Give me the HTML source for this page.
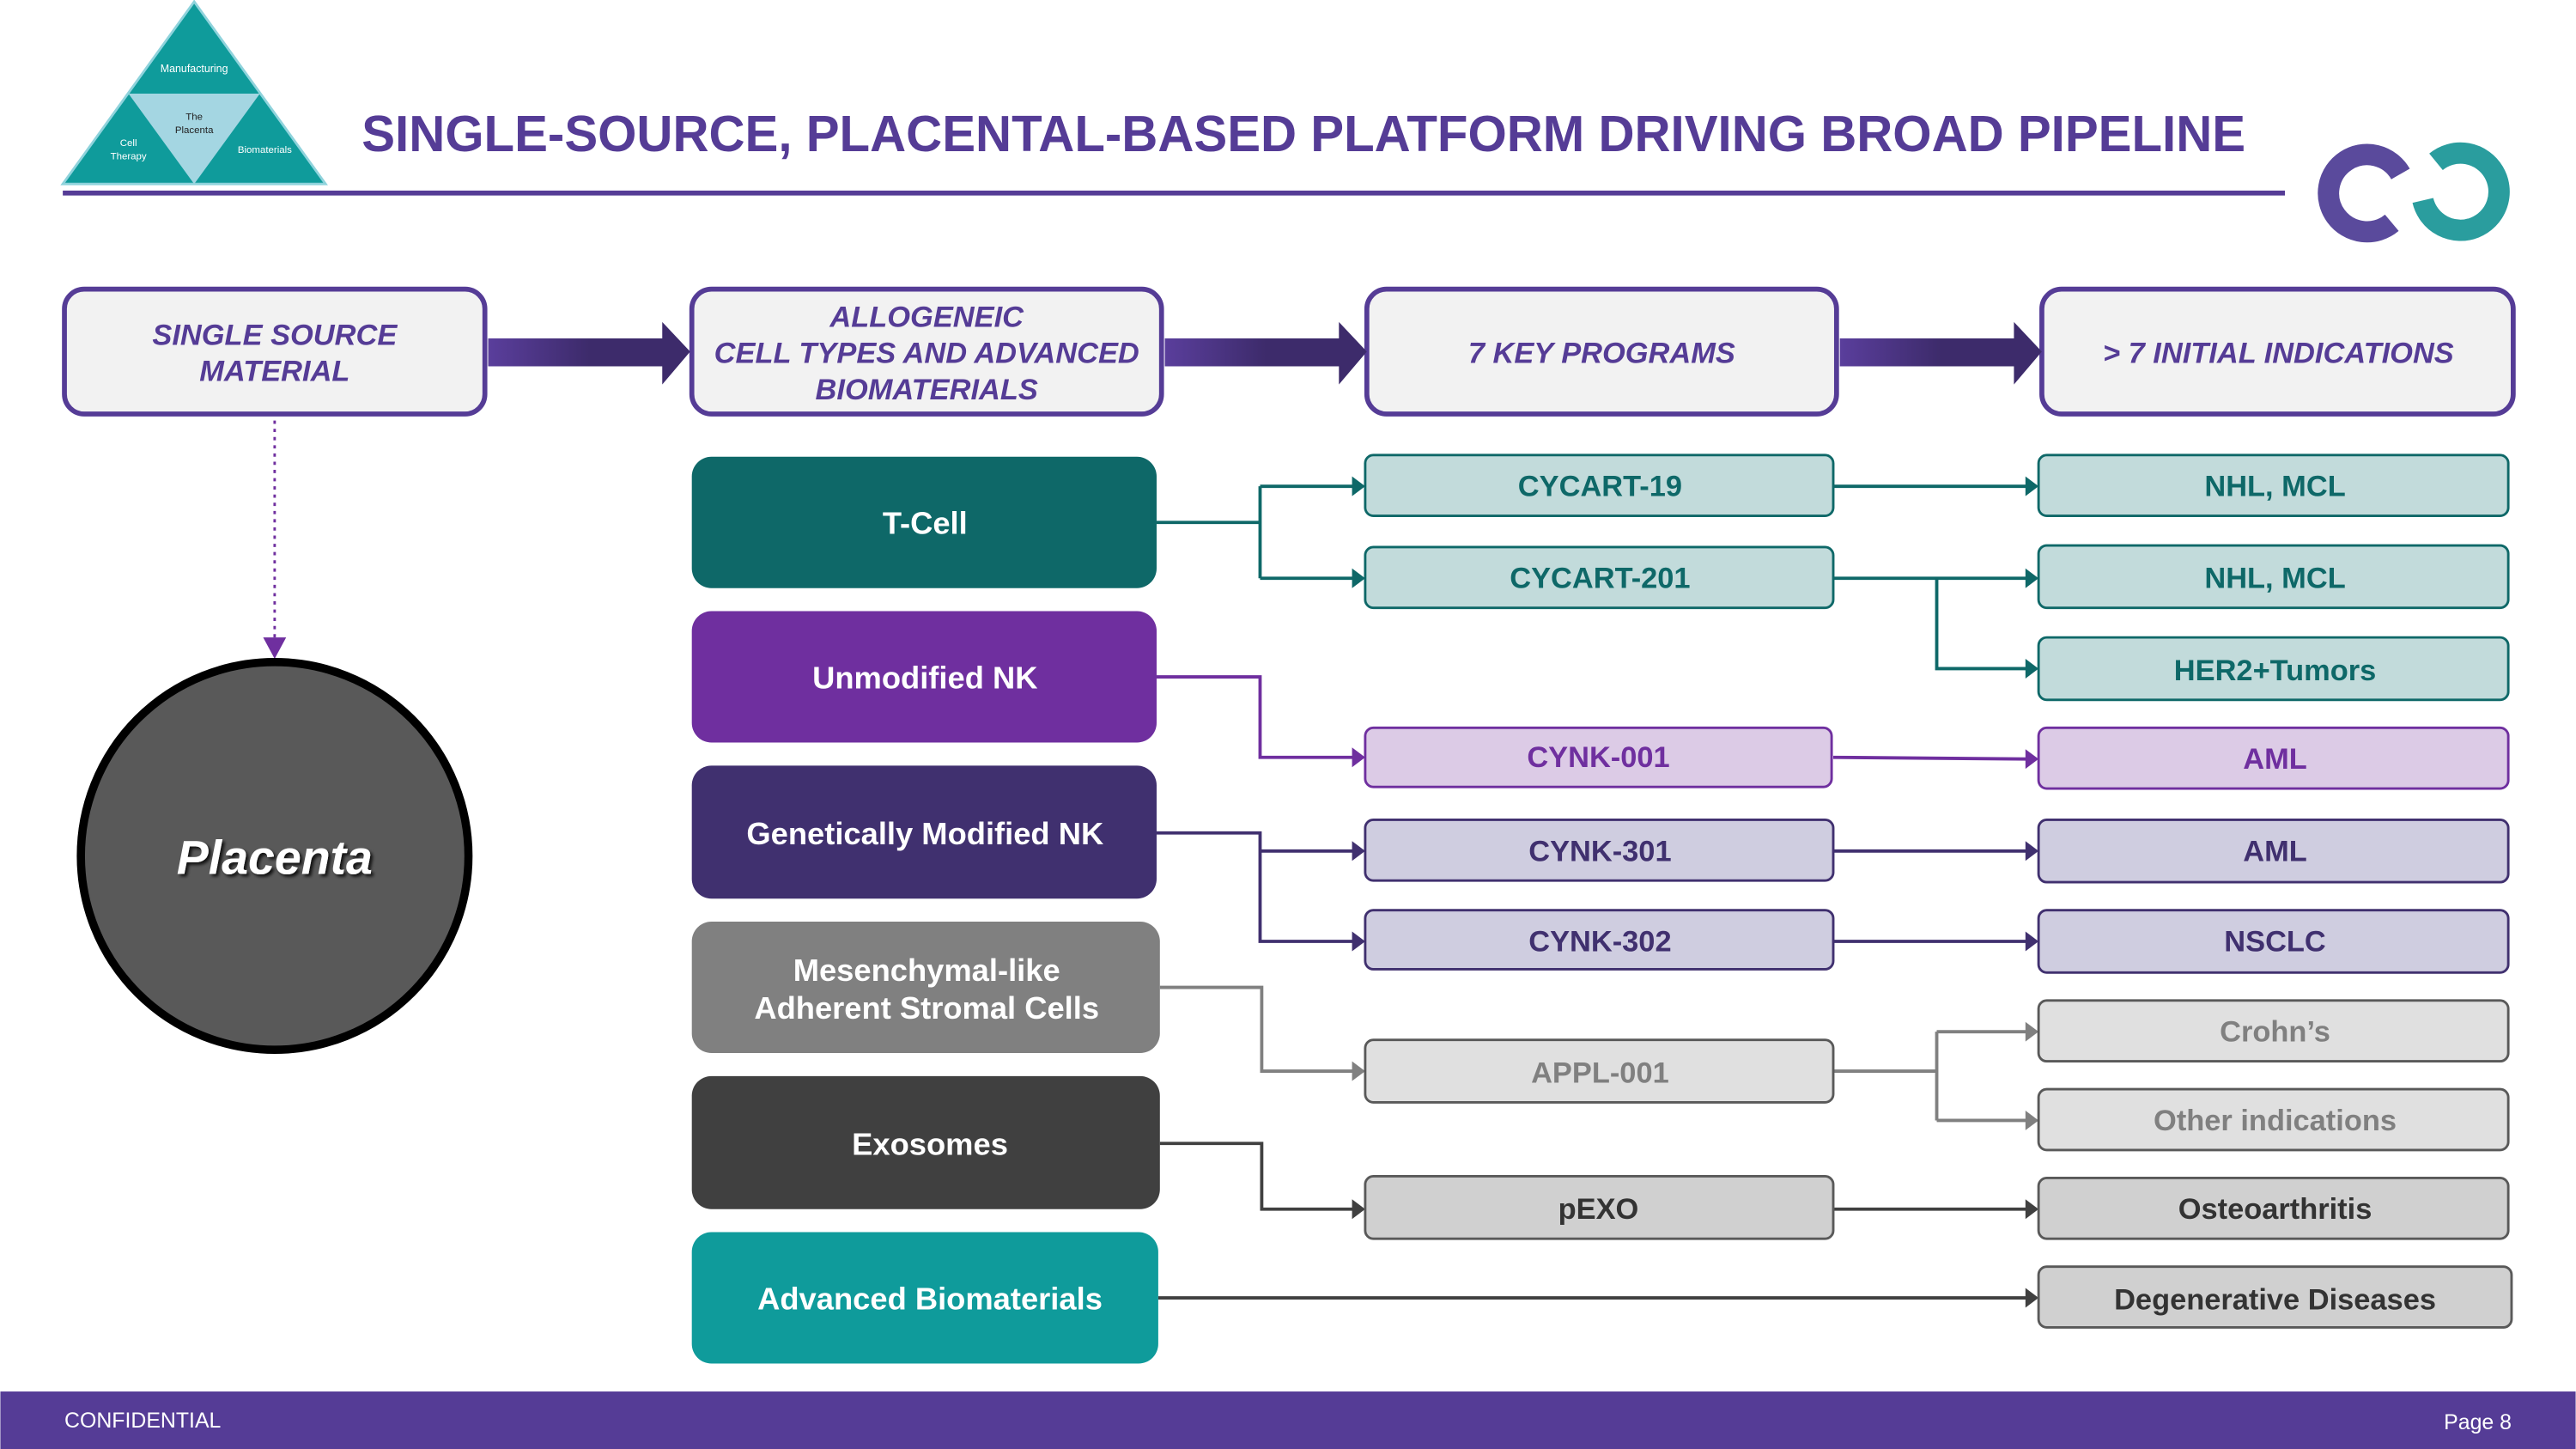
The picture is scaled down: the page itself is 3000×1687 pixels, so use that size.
<!DOCTYPE html>
<html><head><meta charset="utf-8"><style>
html,body{margin:0;padding:0;background:#fff;}
svg{display:block;}
text{font-family:"Liberation Sans",Arial,sans-serif;}
</style></head><body>
<svg width="3000" height="1687" viewBox="0 0 1568 882" xmlns="http://www.w3.org/2000/svg">
<defs>
<linearGradient id="ag" x1="0" x2="1"><stop offset="0" stop-color="#5a3e9c"/><stop offset="0.5" stop-color="#3d2b6b"/><stop offset="1" stop-color="#3d2b6b"/></linearGradient>
<filter id="sh"><feDropShadow dx="1.5" dy="1.5" stdDeviation="1" flood-color="#000" flood-opacity="0.8"/></filter>
</defs>
<!-- logo triangle -->
<polygon points="118,1 38,112 198,112" fill="#0f9b9b" stroke="#8fd3dc" stroke-width="1.5"/>
<polygon points="78,57 158,57 118,112" fill="#a4d6e2"/>
<text x="118" y="44" font-size="6.5" fill="#fff" text-anchor="middle">Manufacturing</text>
<text x="118" y="73" font-size="6" fill="#222" text-anchor="middle">The</text>
<text x="118" y="81" font-size="6" fill="#222" text-anchor="middle">Placenta</text>
<text x="78" y="89" font-size="6" fill="#fff" text-anchor="middle">Cell</text>
<text x="78" y="97" font-size="6" fill="#fff" text-anchor="middle">Therapy</text>
<text x="161" y="93" font-size="6" fill="#fff" text-anchor="middle">Biomaterials</text>
<!-- title -->
<text x="220" y="92" font-size="31" font-weight="bold" fill="#553c96" textLength="1147" lengthAdjust="spacingAndGlyphs">SINGLE-SOURCE, PLACENTAL-BASED PLATFORM DRIVING BROAD PIPELINE</text>
<rect x="38" y="116" width="1353" height="3" fill="#553c96"/>
<!-- top right logo -->
<path d="M1461.4,105.9 A23.5,23.5 0 1 0 1456.1,135.6" fill="none" stroke="#5a4a9c" stroke-width="13"/>
<path d="M1483,98.5 A23.5,23.5 0 1 1 1475,122" fill="none" stroke="#2a9d9e" stroke-width="13"/>
<!-- header boxes -->
<g fill="#f2f2f2" stroke="#553c96" stroke-width="3">
<rect x="39" y="176" width="256" height="76" rx="12"/>
<rect x="421" y="176" width="286" height="76" rx="12"/>
<rect x="832" y="176" width="286" height="76" rx="12"/>
<rect x="1243" y="176" width="287" height="76" rx="12"/>
</g>
<g fill="url(#ag)">
<polygon points="297,206 403,206 403,196 420,214 403,234 403,223 297,223"/>
<polygon points="709,206 815,206 815,196 832,214 815,234 815,223 709,223"/>
<polygon points="1120,206 1226,206 1226,196 1243,214 1226,234 1226,223 1120,223"/>
</g>
<g font-size="18" font-weight="bold" font-style="italic" fill="#553c96" text-anchor="middle">
<text x="167" y="210">SINGLE SOURCE</text><text x="167" y="232">MATERIAL</text>
<text x="564" y="199">ALLOGENEIC</text><text x="564" y="221">CELL TYPES AND ADVANCED</text><text x="564" y="243">BIOMATERIALS</text>
<text x="975" y="221">7 KEY PROGRAMS</text>
<text x="1387" y="221">&gt; 7 INITIAL INDICATIONS</text>
</g>
<!-- dotted + circle -->
<line x1="167" y1="256" x2="167" y2="388" stroke="#6f2f9f" stroke-width="1.5" stroke-dasharray="2,3"/>
<polygon points="160,388 174,388 167,401" fill="#6f2f9f"/>
<circle cx="167" cy="521" r="118" fill="#595959" stroke="#000" stroke-width="5"/>
<text x="167" y="532" font-size="29" font-weight="bold" font-style="italic" fill="#fff" text-anchor="middle" filter="url(#sh)">Placenta</text>
<!-- left boxes -->
<rect x="421" y="278" width="283" height="80" rx="12" fill="#0e6868"/>
<rect x="421" y="372" width="283" height="80" rx="12" fill="#6f2f9f"/>
<rect x="421" y="466" width="283" height="81" rx="12" fill="#40306f"/>
<rect x="421" y="561" width="285" height="80" rx="12" fill="#808080"/>
<rect x="421" y="655" width="285" height="81" rx="12" fill="#404040"/>
<rect x="421" y="750" width="284" height="80" rx="12" fill="#0f9b9b"/>
<g font-size="19" font-weight="bold" fill="#fff" text-anchor="middle">
<text x="563" y="325">T-Cell</text>
<text x="563" y="419">Unmodified NK</text>
<text x="563" y="514">Genetically Modified NK</text>
<text x="564" y="597">Mesenchymal-like</text><text x="564" y="620">Adherent Stromal Cells</text>
<text x="566" y="703">Exosomes</text>
<text x="566" y="797">Advanced Biomaterials</text>
</g>
<!-- connectors -->
<g fill="none" stroke-width="2">
<path d="M704,318 H767 M767,296 V352 M767,296 H824 M767,352 H824" stroke="#0e6868"/>
<path d="M1116,296 H1234 M1116,352 H1234 M1179,352 V407 H1234" stroke="#0e6868"/>
<path d="M704,412 H767 V461 H824 M1116,461 L1234,462" stroke="#6f2f9f"/>
<path d="M704,507 H767 V573 H824 M767,518 H824 M1116,518 H1234 M1116,573 H1234" stroke="#40306f"/>
<path d="M706,601 H768 V652 H824 M1116,652 H1179 M1179,628 V682 M1179,628 H1234 M1179,682 H1234" stroke="#808080"/>
<path d="M706,696 H768 V736 H824 M1116,736 H1234 M705,790 H1234" stroke="#404040"/>
</g>
<g>
<g fill="#0e6868"><polygon points="823,290 831,296 823,302"/><polygon points="823,346 831,352 823,358"/><polygon points="1233,290 1241,296 1233,302"/><polygon points="1233,346 1241,352 1233,358"/><polygon points="1233,401 1241,407 1233,413"/></g>
<g fill="#6f2f9f"><polygon points="823,455 831,461 823,467"/><polygon points="1233,456 1241,462 1233,468"/></g>
<g fill="#40306f"><polygon points="823,512 831,518 823,524"/><polygon points="823,567 831,573 823,579"/><polygon points="1233,512 1241,518 1233,524"/><polygon points="1233,567 1241,573 1233,579"/></g>
<g fill="#808080"><polygon points="823,646 831,652 823,658"/><polygon points="1233,622 1241,628 1233,634"/><polygon points="1233,676 1241,682 1233,688"/></g>
<g fill="#404040"><polygon points="823,730 831,736 823,742"/><polygon points="1233,730 1241,736 1233,742"/><polygon points="1233,784 1241,790 1233,796"/></g>
</g>
<!-- middle boxes -->
<g stroke-width="1.5">
<rect x="831" y="277" width="285" height="37" rx="5" fill="#c2dbdb" stroke="#0e6868"/>
<rect x="831" y="333" width="285" height="37" rx="5" fill="#c2dbdb" stroke="#0e6868"/>
<rect x="831" y="443" width="284" height="36" rx="5" fill="#dccbe6" stroke="#6f2f9f"/>
<rect x="831" y="499" width="285" height="37" rx="5" fill="#cfcde0" stroke="#40306f"/>
<rect x="831" y="554" width="285" height="36" rx="5" fill="#cfcde0" stroke="#40306f"/>
<rect x="831" y="633" width="285" height="38" rx="5" fill="#e0e0e0" stroke="#595959"/>
<rect x="831" y="716" width="285" height="38" rx="5" fill="#d0d0d0" stroke="#595959"/>
<rect x="1241" y="277" width="286" height="37" rx="5" fill="#c2dbdb" stroke="#0e6868"/>
<rect x="1241" y="332" width="286" height="38" rx="5" fill="#c2dbdb" stroke="#0e6868"/>
<rect x="1241" y="388" width="286" height="38" rx="5" fill="#c2dbdb" stroke="#0e6868"/>
<rect x="1241" y="443" width="286" height="37" rx="5" fill="#dccbe6" stroke="#6f2f9f"/>
<rect x="1241" y="499" width="286" height="38" rx="5" fill="#cfcde0" stroke="#40306f"/>
<rect x="1241" y="554" width="286" height="38" rx="5" fill="#cfcde0" stroke="#40306f"/>
<rect x="1241" y="609" width="286" height="37" rx="5" fill="#e0e0e0" stroke="#595959"/>
<rect x="1241" y="663" width="286" height="37" rx="5" fill="#e0e0e0" stroke="#595959"/>
<rect x="1241" y="717" width="286" height="37" rx="5" fill="#d0d0d0" stroke="#595959"/>
<rect x="1241" y="771" width="288" height="37" rx="5" fill="#d0d0d0" stroke="#595959"/>
</g>
<g font-size="18" font-weight="bold" text-anchor="middle">
<text x="974" y="302" fill="#0e6868">CYCART-19</text>
<text x="974" y="358" fill="#0e6868">CYCART-201</text>
<text x="973" y="467" fill="#6f2f9f">CYNK-001</text>
<text x="974" y="524" fill="#40306f">CYNK-301</text>
<text x="974" y="579" fill="#40306f">CYNK-302</text>
<text x="974" y="659" fill="#808080">APPL-001</text>
<text x="973" y="742" fill="#333">pEXO</text>
<text x="1385" y="302" fill="#0e6868">NHL, MCL</text>
<text x="1385" y="358" fill="#0e6868">NHL, MCL</text>
<text x="1385" y="414" fill="#0e6868">HER2+Tumors</text>
<text x="1385" y="468" fill="#6f2f9f">AML</text>
<text x="1385" y="524" fill="#40306f">AML</text>
<text x="1385" y="579" fill="#40306f">NSCLC</text>
<text x="1385" y="634" fill="#808080">Crohn’s</text>
<text x="1385" y="688" fill="#808080">Other indications</text>
<text x="1385" y="742" fill="#333">Osteoarthritis</text>
<text x="1385" y="797" fill="#333">Degenerative Diseases</text>
</g>
<!-- footer -->
<rect x="0" y="847" width="1568" height="35" fill="#553c96"/>
<text x="39" y="869" font-size="13" fill="#fff">CONFIDENTIAL</text>
<text x="1529" y="870" font-size="13" fill="#fff" text-anchor="end">Page 8</text>
</svg>
</body></html>
